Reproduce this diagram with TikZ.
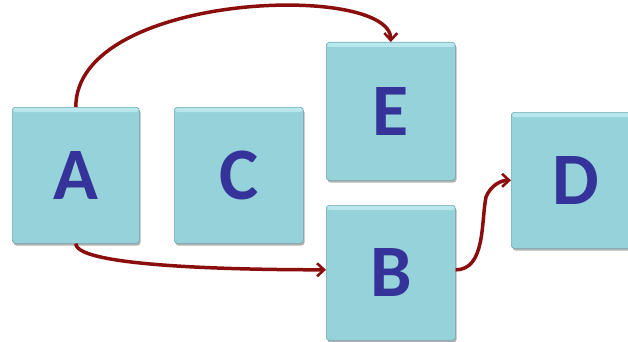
\documentclass[tikz,border=0pt]{standalone}
\usepackage{fontspec}
\setmainfont{Carlito}
\usetikzlibrary{arrows.meta}
\definecolor{boxfill}{HTML}{96D2DA}
\definecolor{boxtop}{HTML}{B8E8EE}
\definecolor{boxedge}{HTML}{6FA7AF}
\definecolor{arrowred}{HTML}{8B0E0E}
\definecolor{letterblue}{HTML}{353399}
\tikzset{
  card/.style={draw=boxedge, line width=0.6pt, fill=boxfill, rounded corners=3pt, inner sep=0pt, anchor=north west},
  letter/.style={font=\bfseries\fontsize{74}{74}\selectfont, text=letterblue},
  link/.style={draw=arrowred, line width=3.5pt, -{Straight Barb[length=7pt,width=13pt,line width=2.6pt]}}
}
\begin{document}
\begin{tikzpicture}[x=1pt,y=-1pt]
\useasboundingbox (0,0) rectangle (628,342);
% shadows
\foreach \x/\y/\w/\h in {12/107/127/136, 174/107/129/136, 326/42/129/138, 326/205/129/135, 511/112/130/136}{
  \fill[gray!60, rounded corners=3pt] (\x+1.5,\y+2.5) rectangle ++(\w,\h);
}
\node[card, minimum width=127pt, minimum height=136pt] (A) at (12,107) {};
\node[card, minimum width=129pt, minimum height=136pt] (C) at (174,107) {};
\node[card, minimum width=129pt, minimum height=138pt] (E) at (326,42) {};
\node[card, minimum width=129pt, minimum height=135pt] (B) at (326,205) {};
\node[card, minimum width=130pt, minimum height=136pt] (D) at (511,112) {};
% top bevel highlights
\foreach \n in {A,C,E,B,D}{
  \fill[boxtop, rounded corners=2.5pt] ([xshift=1pt,yshift=-0.8pt]\n.north west) rectangle ([xshift=-1pt,yshift=-5pt]\n.north east);
}
% letters
\foreach \n/\t in {A/A,C/C,E/E,B/B,D/D}{
  \node[letter] (L\n) at (\n.center) {\t};
}
% connectors
\draw[link] (A.north) .. controls +(0,-115) and +(0,-60) .. (E.north);
\draw[link] (A.south) .. controls +(0,25) and +(-60,0) .. ([yshift=3pt]B.west);
\draw[link] ([yshift=3pt]B.east) .. controls +(30,0) and +(-5,25) .. (486,197) .. controls +(5,-12) and +(-10,0) .. (D.west);
\end{tikzpicture}
\end{document}
